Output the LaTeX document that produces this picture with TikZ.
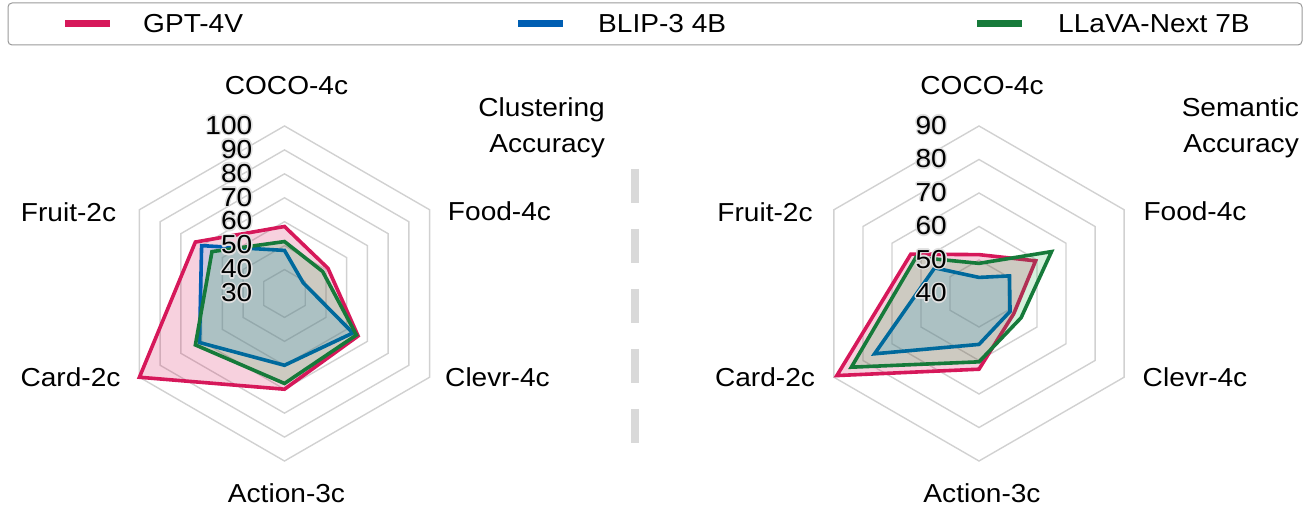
\documentclass[tikz,border=0pt]{standalone}
\usepackage{fontspec}
\setmainfont{Liberation Sans}[FakeStretch=1.08]
\usepackage{contour}
\contourlength{1.4pt}
\contournumber{12}

\definecolor{gptpink}{RGB}{214,24,90}
\definecolor{blipblue}{RGB}{0,94,178}
\definecolor{llavagreen}{RGB}{22,122,58}
\definecolor{blipfill}{RGB}{90,170,235}
\definecolor{llavafill}{RGB}{0,165,50}

\tikzset{
  ring/.style = {draw = black!18, line width = 1.4pt},
  gpt/.style = {draw = gptpink, fill = gptpink, fill opacity = 0.2, line width = 3.6pt},
  blip/.style = {draw = blipblue, fill = blipfill, fill opacity = 0.25, line width = 3.6pt},
  llava/.style = {draw = llavagreen, fill = llavafill, fill opacity = 0.17, line width = 3.6pt},
  lbl/.style = {inner sep = 0pt, font = \fontsize{26}{36}\selectfont},
  ticklbl/.style = {lbl, anchor = east},
  sepline/.style = {draw = black!15, line width = 8pt, dash pattern = on 34pt off 26pt}
}

% six scores, clockwise from the top axis
\newcommand{\radarpoly}[7]{%
  \draw[#1] (90:{#2-\rmin}) -- (30:{#3-\rmin}) -- (-30:{#4-\rmin})
    -- (-90:{#5-\rmin}) -- (210:{#6-\rmin}) -- (150:{#7-\rmin}) -- cycle;}

\begin{document}
\begin{tikzpicture}[x = 1pt, y = 1pt]
\useasboundingbox (0, 0) rectangle (1310, 510);

% legend
\draw[draw = black!40, line width = 1pt, rounded corners = 4pt] (8, 465) rectangle (1302, 507);
\draw[gptpink, line width = 7pt] (65, 486) -- (110, 486);
\node[lbl, anchor = west] (leg-gpt) at (143, 486) {GPT-4V};
\draw[blipblue, line width = 7pt] (518, 486) -- (563, 486);
\node[lbl, anchor = west] (leg-blip) at (598, 486) {BLIP-3 4B};
\draw[llavagreen, line width = 7pt] (977, 486) -- (1022, 486);
\node[lbl, anchor = west] (leg-llava) at (1058, 486) {LLaVA-Next 7B};

% clustering accuracy
\begin{scope}[shift = {(284.5, 216.5)}]
  \node[lbl] (l-coco) at (2, 208) {COCO-4c};
  \node[lbl] (l-food) at (215, 82) {Food-4c};
  \node[lbl] (l-clevr) at (213, -84) {Clevr-4c};
  \node[lbl] (l-action) at (2, -200) {Action-3c};
  \node[lbl] (l-card) at (-214, -84) {Card-2c};
  \node[lbl] (l-fruit) at (-216, 81) {Fruit-2c};
  \node[lbl, align = right, anchor = north east] (l-title) at (320.5, 196) {Clustering\\Accuracy};
  \begin{scope}[x = 2.393pt, y = 2.393pt]
    \def\rmin{30}
    \foreach \r in {10, 20, ..., 70}
      \draw[ring] (90:\r) -- (30:\r) -- (-30:\r) -- (-90:\r) -- (210:\r) -- (150:\r) -- cycle;
    \radarpoly{gpt}{58}{51}{65.5}{70}{100}{73}
    \radarpoly{blip}{48}{39}{63}{60}{71}{70}
    \radarpoly{llava}{51.7}{48.4}{64.7}{67.6}{73}{65}
    \foreach \v in {30, 40, ..., 100}
      \node[ticklbl] at ([xshift = -32pt]90:{\v-\rmin}) {\contour{black!12}{\v}};
  \end{scope}
\end{scope}

\draw[sepline] (635, 341) -- (635, 67);

% semantic accuracy
\begin{scope}[shift = {(979, 216.5)}]
  \node[lbl] (r-coco) at (3, 208) {COCO-4c};
  \node[lbl] (r-food) at (216, 82) {Food-4c};
  \node[lbl] (r-clevr) at (216, -84) {Clevr-4c};
  \node[lbl] (r-action) at (3, -200) {Action-3c};
  \node[lbl] (r-card) at (-214, -84) {Card-2c};
  \node[lbl] (r-fruit) at (-214, 81) {Fruit-2c};
  \node[lbl, align = right, anchor = north east] (r-title) at (320, 196) {Semantic\\Accuracy};
  \begin{scope}[x = 3.35pt, y = 3.35pt]
    \def\rmin{40}
    \foreach \r in {10, 20, ..., 50}
      \draw[ring] (90:\r) -- (30:\r) -- (-30:\r) -- (-90:\r) -- (210:\r) -- (150:\r) -- cycle;
    \radarpoly{gpt}{51.6}{59.5}{52}{62.6}{89}{63.5}
    \radarpoly{blip}{44.8}{50.5}{50.7}{55.2}{76}{55.3}
    \radarpoly{llava}{49}{65}{54.5}{60.4}{84}{61.7}
    \foreach \v in {40, 50, ..., 90}
      \node[ticklbl] at ([xshift = -32pt]90:{\v-\rmin}) {\contour{black!12}{\v}};
  \end{scope}
\end{scope}
\end{tikzpicture}
\end{document}
